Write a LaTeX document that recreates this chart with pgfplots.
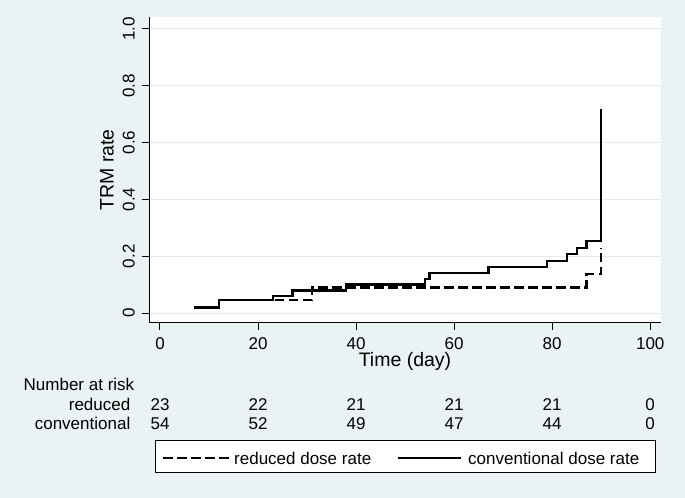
\documentclass[border=0pt]{standalone}
\usepackage{fontspec}
\setmainfont{Liberation Sans}
\usepackage{pgfplots}
\pgfplotsset{compat=1.18}
\definecolor{stbg}{HTML}{EAF2F3}
\definecolor{stgrid}{HTML}{E2ECEE}
\newcommand{\tk}{\fontsize{17bp}{20bp}\selectfont}
\newcommand{\ttl}{\fontsize{19.5bp}{23bp}\selectfont}
\begin{document}
\begin{tikzpicture}[x=1bp,y=1bp]
\fill[stbg] (0,0) rectangle (685,498);
\begin{axis}[
  at={(149bp,175bp)}, anchor=south west,
  scale only axis, width=512bp, height=306bp,
  xmin=-2.24, xmax=102.2, ymin=-0.035, ymax=1.042,
  axis x line*=bottom, axis y line*=left,
  axis line style={line width=1bp,-},
  axis background/.style={fill=white},
  xtick={0,20,40,60,80,100}, xticklabels={0,20,40,60,80,100},
  ytick={0,0.2,0.4,0.6,0.8,1}, yticklabels={0,0.2,0.4,0.6,0.8,1.0},
  tick align=outside, major tick length=7bp,
  tick style={line width=1bp,black},
  ymajorgrids, grid style={stgrid,line width=1bp},
  /pgf/number format/assume math mode=true,
  ticklabel style={font=\tk},
  xticklabel style={anchor=north,inner sep=0pt,yshift=-7bp},
  yticklabel style={xshift=-7bp,rotate=90,anchor=south,inner sep=0pt},
  xlabel={Time (day)}, ylabel={TRM rate},
  xlabel style={font=\ttl,at={(axis description cs:0.5,-0.1438)},anchor=base,inner sep=0pt},
  ylabel style={font=\ttl,at={(axis description cs:-0.082,0.5)},anchor=center,inner sep=0pt},
  clip=false,
]
% reduced dose rate
\addplot[const plot, line width=2.3bp, dash pattern=on 9.5bp off 4.5bp] coordinates {
(12,0.046) (31,0.090) (87,0.138) (90,0.228)
};
% conventional dose rate
\addplot[const plot, line width=2.3bp] coordinates {
(7,0.020) (12,0.046) (23,0.060) (27,0.079) (38,0.100) (54,0.119) (55,0.140)
(67,0.163) (79,0.183) (83,0.207) (85,0.230) (87,0.253) (90,0.717)
};
\end{axis}
% number at risk table
\node[font=\tk,anchor=base west,inner sep=0pt] at (23.5,107.3) {Number at risk};
\node[font=\tk,anchor=base east,inner sep=0pt] at (130.5,87.3) {reduced};
\node[font=\tk,anchor=base east,inner sep=0pt] at (130.5,68) {conventional};
\foreach \x/\a/\b in {160/23/54,258/22/52,356/21/49,454/21/47,552/21/44,650/0/0}{
  \node[font=\tk,anchor=base,inner sep=0pt] at (\x,87.3) {\a};
  \node[font=\tk,anchor=base,inner sep=0pt] at (\x,68) {\b};
}
% legend
\draw[line width=1bp,fill=white] (155,25) rectangle (655,57);
\draw[line width=2.3bp,dash pattern=on 10bp off 4bp] (163,40) -- (229,40);
\draw[line width=2.3bp] (398,40) -- (461,40);
\node[font=\tk,anchor=base west,inner sep=0pt] at (234,33) {reduced dose rate};
\node[font=\tk,anchor=base west,inner sep=0pt] at (468,33) {conventional dose rate};
\end{tikzpicture}
\end{document}
